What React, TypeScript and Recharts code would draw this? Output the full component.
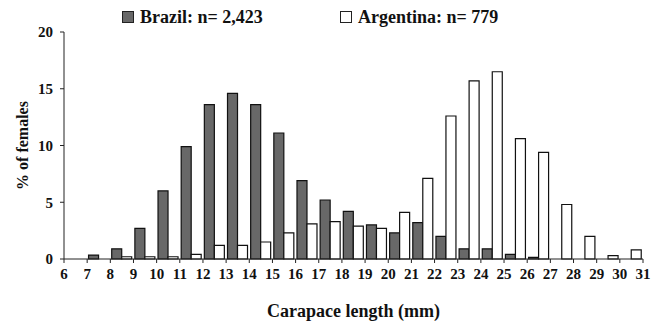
import { BarChart, Bar, XAxis, YAxis, Legend } from "recharts";

// size classes, lower bound of each 1 mm bin
const binStart = [6, 7, 8, 9, 10, 11, 12, 13, 14, 15, 16, 17, 18, 19, 20, 21, 22, 23, 24, 25, 26, 27, 28, 29, 30];
const brazilPct = [0, 0.35, 0.9, 2.7, 6.0, 9.9, 13.6, 14.6, 13.6, 11.1, 6.9, 5.2, 4.2, 3.0, 2.3, 3.2, 2.0, 0.9, 0.9, 0.4, 0.15, 0, 0, 0, 0];
const argentinaPct = [0, 0, 0.2, 0.2, 0.2, 0.4, 1.2, 1.2, 1.5, 2.3, 3.1, 3.3, 2.9, 2.7, 4.1, 7.1, 12.6, 15.7, 16.5, 10.6, 9.4, 4.8, 2.0, 0.3, 0.8];
const xTicks = [6, 7, 8, 9, 10, 11, 12, 13, 14, 15, 16, 17, 18, 19, 20, 21, 22, 23, 24, 25, 26, 27, 28, 29, 30, 31];
const yTicks = [0, 5, 10, 15, 20];
const seriesLabels = ["Brazil: n= 2,423", "Argentina: n= 779"];

const FONT = '"Liberation Serif", "Times New Roman", serif';
const BRAZIL = "#686868";

const data = binStart.map((b, i) => ({
  mid: b + 0.5,
  brazil: brazilPct[i],
  argentina: argentinaPct[i],
}));

function LegendBox() {
  const items = [
    { label: seriesLabels[0], fill: BRAZIL, left: 122 },
    { label: seriesLabels[1], fill: "#ffffff", left: 340 },
  ];
  return (
    <div style={{ position: "relative", width: 660, height: 30, fontFamily: FONT, fontWeight: "bold", fontSize: 18, color: "#111" }}>
      {items.map((it) => (
        <div key={it.label} style={{ position: "absolute", left: it.left, top: 6, display: "flex", alignItems: "center", whiteSpace: "nowrap", lineHeight: "22px" }}>
          <span style={{ display: "inline-block", width: 10, height: 10, background: it.fill, border: "1px solid #222", marginRight: 6 }} />
          <span>{it.label}</span>
        </div>
      ))}
    </div>
  );
}

export default function App() {
  const tickStyle = { fontFamily: FONT, fontWeight: "bold", fontSize: 15, fill: "#111" };
  return (
    <div style={{ position: "absolute", left: 0, top: 0, background: "#fff" }}>
      <BarChart
        width={660}
        height={323}
        data={data}
        margin={{ top: 32, right: 17, bottom: 0, left: 0 }}
        barCategoryGap="6%"
        barGap={0}
      >
        <XAxis
          type="number"
          dataKey="mid"
          domain={[6, 31]}
          ticks={xTicks}
          interval={0}
          tickSize={4}
          tickMargin={5}
          height={64}
          stroke="#222"
          tick={tickStyle}
          label={{
            value: "Carapace length (mm)",
            position: "insideBottom",
            offset: 6,
            style: { fontFamily: FONT, fontWeight: "bold", fontSize: 18, fill: "#111" },
          }}
        />
        <YAxis
          domain={[0, 20]}
          ticks={yTicks}
          width={64}
          tickSize={4}
          tickMargin={7}
          stroke="#222"
          tick={tickStyle}
          label={{
            value: "% of females",
            angle: -90,
            position: "insideLeft",
            offset: 22,
            style: { fontFamily: FONT, fontWeight: "bold", fontSize: 16, fill: "#111", textAnchor: "middle" },
          }}
        />
        <Legend
          layout="horizontal"
          verticalAlign="middle"
          wrapperStyle={{ top: 0, left: 0, width: 660 }}
          content={() => <LegendBox />}
        />
        <Bar dataKey="brazil" name={seriesLabels[0]} fill={BRAZIL} stroke="#111" strokeWidth={1.2} isAnimationActive={false} />
        <Bar dataKey="argentina" name={seriesLabels[1]} fill="#ffffff" stroke="#111" strokeWidth={1.2} isAnimationActive={false} />
      </BarChart>
    </div>
  );
}
